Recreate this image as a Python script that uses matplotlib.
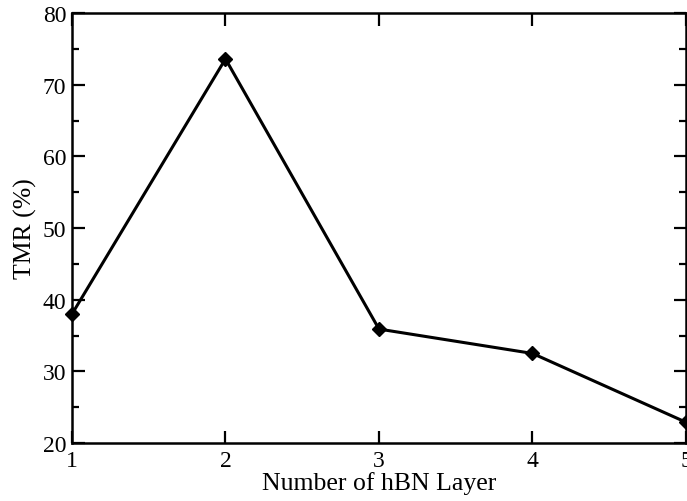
import matplotlib
matplotlib.use("Agg")
import matplotlib.pyplot as plt
from matplotlib.ticker import MultipleLocator

# TMR versus number of hBN layers
layers = [1, 2, 3, 4, 5]
tmr = [38.0, 73.6, 35.9, 32.5, 22.9]

plt.rcParams["font.family"] = ["Liberation Serif", "DejaVu Serif"]

fig = plt.figure(figsize=(6.87, 5.02), dpi=100)
ax = fig.add_axes([0.1048, 0.1155, 0.8937, 0.8565])

ax.plot(layers, tmr, color="black", linewidth=2.2, marker="D", markersize=7,
        clip_on=False, zorder=3)

ax.set_xlim(1, 5)
ax.set_ylim(20, 80)
ax.xaxis.set_major_locator(MultipleLocator(1))
ax.yaxis.set_major_locator(MultipleLocator(10))
ax.yaxis.set_minor_locator(MultipleLocator(5))

ax.tick_params(which="both", direction="in", top=True, right=True,
               width=1.6, labelsize=17, colors="black")
ax.tick_params(axis="x", pad=5)
ax.tick_params(axis="y", pad=4)
ax.tick_params(which="major", length=9)
ax.tick_params(which="minor", length=5)
for s in ax.spines.values():
    s.set_linewidth(1.8)

ax.set_xlabel("Number of hBN Layer", fontsize=18.5, labelpad=0)
ax.set_ylabel("TMR (%)", fontsize=18.5, labelpad=4)

fig.savefig("out.png", dpi=100)
